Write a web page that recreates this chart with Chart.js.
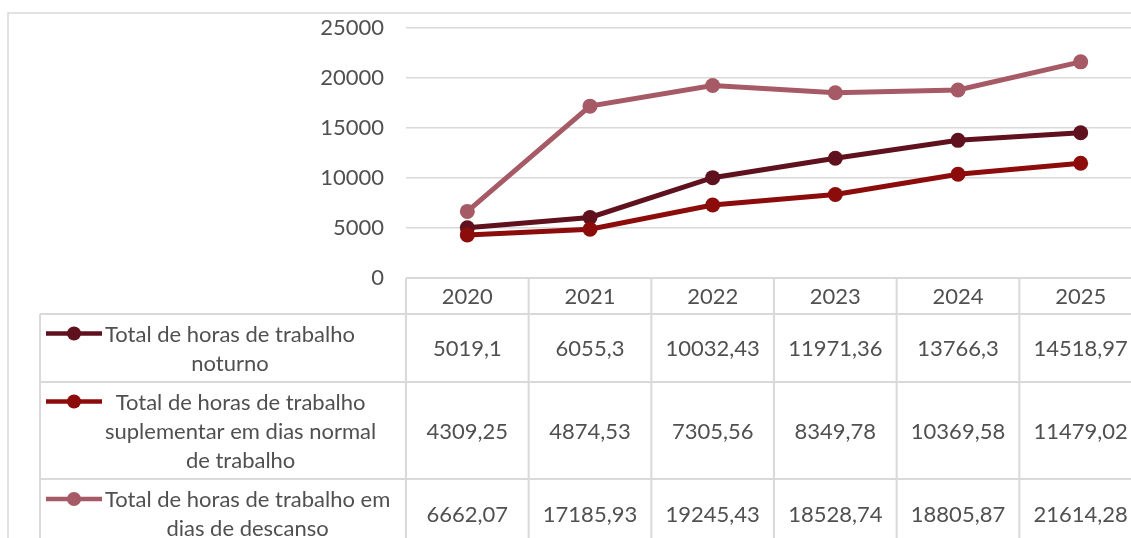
<!DOCTYPE html>
<html>
<head>
<meta charset="utf-8">
<script src="https://cdn.jsdelivr.net/npm/chart.js@4"></script>
<style>
  html, body { margin: 0; padding: 0; background: #ffffff; overflow: hidden; width: 1131px; height: 538px; }
  #wrap { position: absolute; left: 0; top: 0; width: 1150px; height: 560px; }
</style>
</head>
<body>
<div id="wrap"><canvas id="c" width="1150" height="560"></canvas></div>
<script>
const years = ['2020', '2021', '2022', '2023', '2024', '2025'];
const noturno = [5019.1, 6055.3, 10032.43, 11971.36, 13766.3, 14518.97];
const suplementar = [4309.25, 4874.53, 7305.56, 8349.78, 10369.58, 11479.02];
const descanso = [6662.07, 17185.93, 19245.43, 18528.74, 18805.87, 21614.28];
const seriesNames = [
  ['Total de horas de trabalho', 'noturno'],
  ['Total de horas de trabalho', 'suplementar em dias normal', 'de trabalho'],
  ['Total de horas de trabalho em', 'dias de descanso']
];
const yTicks = [0, 5000, 10000, 15000, 20000, 25000];

const colors = ['#5f121e', '#8c0c0c', '#a65a66'];
const FONT = '22px Lato';
const TEXT = '#505050';
const RULE = '#d9d9d9';

function fmt(v) { return String(v).replace('.', ','); }

const frame = {
  id: 'frame',
  beforeDraw(chart) {
    const ctx = chart.ctx;
    ctx.save();
    ctx.strokeStyle = RULE;
    ctx.lineWidth = 1.5;
    ctx.strokeRect(8, 13, 1200, 700);
    ctx.restore();
  }
};

const dataTable = {
  id: 'dataTable',
  afterDraw(chart) {
    const { ctx, chartArea, scales } = chart;
    const xs = scales.x;
    const n = years.length;
    const colW = (chartArea.right - chartArea.left) / n;
    const top = chartArea.bottom;
    const rowY = [top, top + 36, top + 104, top + 201, top + 270];
    const legLeft = 40;
    const tabLeft = chartArea.left;
    const right = chartArea.right;
    ctx.save();
    ctx.strokeStyle = RULE;
    ctx.lineWidth = 2;
    ctx.beginPath();
    ctx.moveTo(tabLeft, rowY[0]); ctx.lineTo(right, rowY[0]);
    for (let r = 1; r < rowY.length; r++) { ctx.moveTo(legLeft, rowY[r]); ctx.lineTo(right, rowY[r]); }
    ctx.moveTo(legLeft, rowY[1]); ctx.lineTo(legLeft, rowY[4]);
    for (let i = 0; i <= n; i++) {
      const bx = tabLeft + i * colW;
      ctx.moveTo(bx, rowY[0]); ctx.lineTo(bx, rowY[4]);
    }
    ctx.stroke();

    ctx.font = FONT;
    ctx.fillStyle = TEXT;
    ctx.textAlign = 'center';
    ctx.textBaseline = 'middle';
    years.forEach((y, i) => ctx.fillText(y, xs.getPixelForValue(i), (rowY[0] + rowY[1]) / 2 + 1));

    chart.data.datasets.forEach((ds, d) => {
      const y0 = rowY[d + 1], y1 = rowY[d + 2];
      const cy = (y0 + y1) / 2;
      ds.data.forEach((v, i) => ctx.fillText(fmt(v), xs.getPixelForValue(i), cy + 1));
      const lines = seriesNames[d];
      const lh = 29;
      const firstY = cy - (lines.length - 1) * lh / 2;
      ctx.strokeStyle = ds.borderColor;
      ctx.lineWidth = 4.5;
      ctx.beginPath();
      ctx.moveTo(46, firstY); ctx.lineTo(102, firstY);
      ctx.stroke();
      ctx.fillStyle = ds.borderColor;
      ctx.beginPath();
      ctx.arc(74, firstY, 7, 0, Math.PI * 2);
      ctx.fill();
      ctx.fillStyle = TEXT;
      const maxW = Math.max(...lines.map(t => ctx.measureText(t).width));
      const cx = 105 + maxW / 2;
      lines.forEach((t, k) => ctx.fillText(t, cx, firstY + k * lh + 1));
    });
    ctx.restore();
  }
};

const mk = (label, data, color, order) => ({
  label, data, order,
  borderColor: color, backgroundColor: color,
  pointBackgroundColor: color, pointBorderColor: color,
  borderWidth: 5, pointRadius: 7.5, pointBorderWidth: 0, pointHoverRadius: 7.5,
  tension: 0, fill: false
});

new Chart(document.getElementById('c'), {
  type: 'line',
  data: {
    labels: years,
    datasets: [
      mk(seriesNames[0].join(' '), noturno, colors[0], 3),
      mk(seriesNames[1].join(' '), suplementar, colors[1], 2),
      mk(seriesNames[2].join(' '), descanso, colors[2], 1)
    ]
  },
  options: {
    responsive: false,
    animation: false,
    devicePixelRatio: 1,
    layout: { padding: { left: 0, top: 28, right: 8, bottom: 282 } },
    plugins: { legend: { display: false }, tooltip: { enabled: false } },
    scales: {
      x: { type: 'category', offset: true, display: false },
      y: {
        min: 0, max: 25000,
        afterFit(s) { s.width = 406; s.paddingTop = 0; s.paddingBottom = 0; },
        afterBuildTicks(s) { s.ticks = yTicks.map(v => ({ value: v })); },
        border: { display: false },
        grid: { color: RULE, lineWidth: 1.5, drawTicks: false },
        ticks: { padding: 22, color: TEXT, font: { family: 'Lato', size: 22 }, callback: v => String(v) }
      }
    }
  },
  plugins: [frame, dataTable]
});
</script>
</body>
</html>
